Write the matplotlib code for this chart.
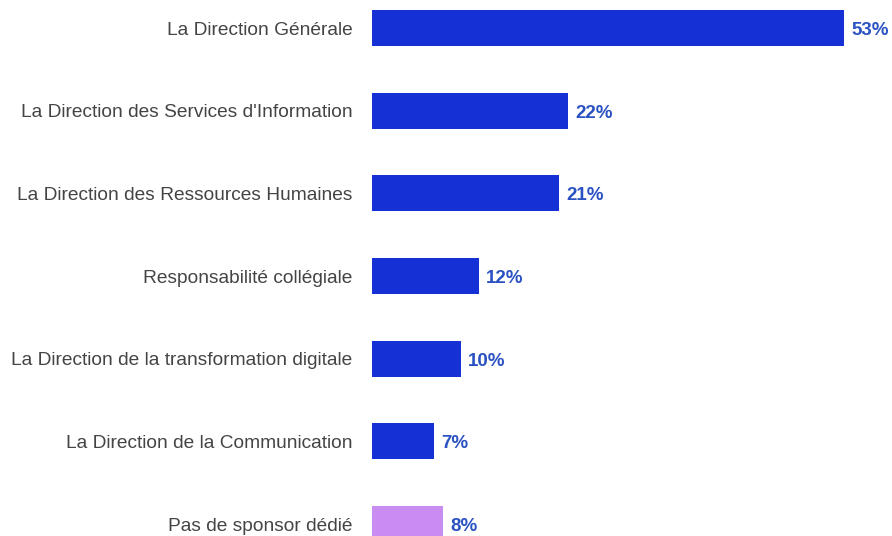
import matplotlib.pyplot as plt

categories = [
    "La Direction Générale",
    "La Direction des Services d'Information",
    "La Direction des Ressources Humaines",
    "Responsabilité collégiale",
    "La Direction de la transformation digitale",
    "La Direction de la Communication",
    "Pas de sponsor dédié",
]
values = [53, 22, 21, 12, 10, 7, 8]
colors = ["#1530D5"] * 6 + ["#C98CF0"]

plt.rcParams['font.family'] = ['Liberation Sans', 'DejaVu Sans']

fig = plt.figure(figsize=(8.92, 5.36), dpi=100)
ax = fig.add_axes([372 / 892, 0, 1 - 372 / 892, 1])

pos = list(range(len(categories)))
ax.barh(pos, values, height=0.435, color=colors)

# valeurs en bout de barre
for y, v in zip(pos, values):
    ax.text(v + 0.8, y + 0.03, f"{v}%", va='center', ha='left',
            fontsize=13.5, fontweight='bold', color='#2B52C2')

ax.set_xlim(0, 58.4)
ax.set_ylim(6.145, -0.339)
ax.set_yticks(pos)
ax.set_yticklabels(categories, fontsize=13.8, color='#444444')
ax.tick_params(axis='y', length=0, pad=14)
ax.set_xticks([])
for s in ax.spines.values():
    s.set_visible(False)

fig.savefig('out.png', dpi=100)
